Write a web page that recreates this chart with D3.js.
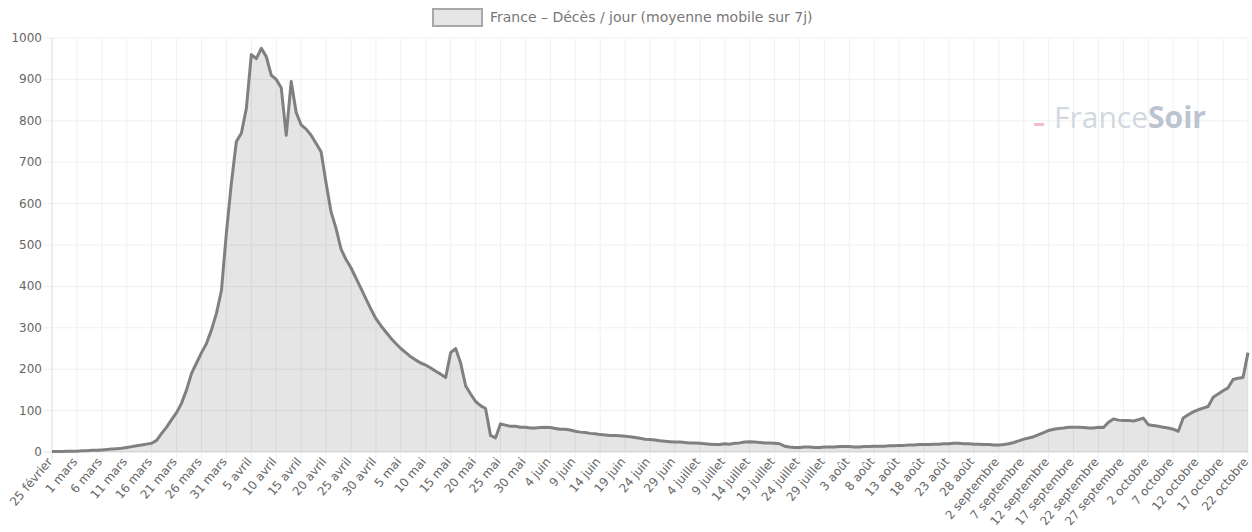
<!DOCTYPE html>
<html><head><meta charset="utf-8">
<script src="https://cdn.jsdelivr.net/npm/d3@7/dist/d3.min.js"></script>
<style>body{margin:0;background:#fff}svg{display:block}</style>
</head><body><svg id="c" width="1252" height="532"></svg>
<script>
const seriesName = "France – Décès / jour (moyenne mobile sur 7j)";
const monthNames = ["janvier","février","mars","avril","mai","juin","juillet","août","septembre","octobre","novembre","décembre"];
const startDate = [2020, 1, 25]; // 25 février 2020
const yTicks = [0,100,200,300,400,500,600,700,800,900,1000];
const deaths = [
1,1,1,2,2,2,3,3,4,4,5,6,7,8,9,11,13,15,17,19,
21,28,45,60,78,95,118,150,190,215,240,262,295,335,390,530,650,750,770,830,
960,950,975,955,910,900,880,765,895,820,790,780,765,745,725,650,580,540,490,465,
445,420,395,370,345,322,305,290,275,262,250,240,230,222,215,210,203,195,188,180,
240,250,215,160,140,122,112,105,40,34,68,65,62,62,60,60,58,58,59,60,
59,57,55,55,53,50,48,47,45,44,42,41,40,40,39,38,37,35,33,31,
30,29,27,26,25,24,24,23,22,22,21,20,19,18,18,20,19,21,22,24,
25,24,23,22,22,21,20,14,12,11,11,12,12,11,11,12,12,12,13,13,
13,12,12,13,13,14,14,14,15,15,16,16,17,17,18,18,18,19,19,20,
20,21,21,20,20,19,19,18,18,17,17,18,20,23,27,31,34,37,42,47,
52,55,57,58,60,60,60,59,58,58,60,59,72,80,77,76,76,75,78,82,
66,64,62,60,58,55,50,82,90,97,102,106,110,132,140,148,155,175,178,180,
240];

// daily category labels
const dates = [];
{
  const d0 = new Date(startDate[0], startDate[1], startDate[2]);
  for (let i = 0; i < deaths.length; i++) {
    const d = new Date(d0.getFullYear(), d0.getMonth(), d0.getDate() + i);
    dates.push(d.getDate() + " " + monthNames[d.getMonth()]);
  }
}
const labelEvery = 5;

const svg = d3.select("#c");
const L = 52, R = 1248, T = 38, B = 452;
const x = d3.scalePoint().domain(d3.range(deaths.length)).range([L, R]);
const y = d3.scaleLinear().domain([0, 1000]).range([B, T]);
const font = "'DejaVu Sans', Verdana, sans-serif";

// grid
const g = svg.append("g");
g.selectAll("line.h").data(yTicks).join("line")
  .attr("x1", L - 8).attr("x2", R).attr("y1", d => y(d)).attr("y2", d => y(d))
  .attr("stroke", d => d === 0 ? "#dcdcdc" : "#f0f0f0").attr("stroke-width", 1);
const xt = d3.range(0, deaths.length, labelEvery);
g.selectAll("line.v").data(xt).join("line")
  .attr("x1", d => x(d)).attr("x2", d => x(d)).attr("y1", T).attr("y2", B + 8)
  .attr("stroke", d => d === 0 ? "#dcdcdc" : "#f0f0f0").attr("stroke-width", 1);

// y labels
svg.append("g").selectAll("text").data(yTicks).join("text")
  .attr("x", L - 10).attr("y", d => y(d) + 4).attr("text-anchor", "end")
  .attr("font-family", font).attr("font-size", 12).attr("fill", "#666")
  .text(d => d);

// x labels
svg.append("g").selectAll("text").data(xt).join("text")
  .attr("transform", d => `translate(${x(d) + 1},${B + 10}) rotate(-50)`)
  .attr("text-anchor", "end")
  .attr("font-family", font).attr("font-size", 12).attr("fill", "#666")
  .text(d => dates[d]);

// area + line
const area = d3.area().x((d, i) => x(i)).y0(y(0)).y1(d => y(d));
const line = d3.line().x((d, i) => x(i)).y(d => y(d));
svg.append("path").datum(deaths).attr("d", area).attr("fill", "rgba(0,0,0,0.1)");
svg.append("path").datum(deaths).attr("d", line).attr("fill", "none")
  .attr("stroke", "#808080").attr("stroke-width", 3).attr("stroke-linejoin", "round");

// legend
svg.append("rect").attr("x", 433).attr("y", 9).attr("width", 49).attr("height", 17)
  .attr("fill", "#e6e6e6").attr("stroke", "#a8a8a8").attr("stroke-width", 2);
svg.append("text").attr("x", 490).attr("y", 22).attr("font-family", font)
  .attr("font-size", 14).attr("fill", "#777").text(seriesName);

// watermark
svg.append("rect").attr("x", 1034).attr("y", 123).attr("width", 10).attr("height", 3).attr("fill", "#f3bccb");
const wm = svg.append("text").attr("x", 1054).attr("y", 128).attr("font-family", "'Open Sans', sans-serif")
  .attr("font-size", 30);
wm.append("tspan").attr("fill", "#d3d8e0").text("France");
wm.append("tspan").attr("fill", "#bcc4cf").attr("font-weight", "bold").text("Soir");
</script></body></html>
